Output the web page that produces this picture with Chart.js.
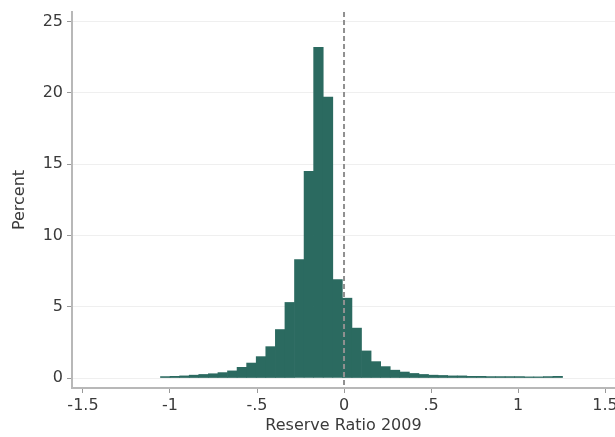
<!DOCTYPE html>
<html>
<head>
<meta charset="utf-8">
<script src="https://cdn.jsdelivr.net/npm/chart.js@4/dist/chart.umd.min.js"></script>
<style>
  html, body { margin: 0; padding: 0; background: #fff; }
  canvas { display: block; }
</style>
</head>
<body>
<canvas id="histChart" width="615" height="437"></canvas>
<script>
// Histogram of the 2009 reserve ratio (bin midpoints and percent of banks per bin)
const binCenters = [
  -1.027, -0.972, -0.917, -0.862, -0.807, -0.752, -0.697, -0.642, -0.587, -0.532,
  -0.477, -0.422, -0.367, -0.312, -0.257, -0.202, -0.147, -0.092, -0.037, 0.018,
  0.073, 0.128, 0.183, 0.238, 0.293, 0.348, 0.403, 0.458, 0.513, 0.568,
  0.623, 0.678, 0.733, 0.788, 0.843, 0.898, 0.953, 1.008, 1.063, 1.118,
  1.173, 1.228
];
const percent = [
  0.10, 0.12, 0.15, 0.20, 0.25, 0.30, 0.38, 0.50, 0.75, 1.05,
  1.50, 2.20, 3.40, 5.30, 8.30, 14.50, 23.20, 19.70, 6.90, 5.60,
  3.50, 1.90, 1.15, 0.80, 0.55, 0.42, 0.32, 0.25, 0.20, 0.18,
  0.15, 0.15, 0.12, 0.12, 0.10, 0.10, 0.10, 0.10, 0.08, 0.08,
  0.10, 0.12
];
const xTicks = [-1.5, -1, -0.5, 0, 0.5, 1, 1.5];
const yTicks = [0, 5, 10, 15, 20, 25];

const barColor = '#2b6a60';
const textColor = '#3a3a3a';
const axisColor = '#b8b8b8';

// stata-style labels: -.5 and .5 without the leading zero
function fmtTick(v) {
  if (v === 0) return '0';
  const a = Math.abs(v);
  const s = a < 1 ? String(a).slice(1) : String(a);
  return (v < 0 ? '-' : '') + s;
}

// vertical dashed reference line at zero
const zeroLine = {
  id: 'zeroLine',
  afterDatasetsDraw(chart) {
    const { ctx, chartArea, scales } = chart;
    const x = scales.x.getPixelForValue(0);
    ctx.save();
    ctx.strokeStyle = '#909090';
    ctx.lineWidth = 2;
    ctx.setLineDash([5, 3]);
    ctx.beginPath();
    ctx.moveTo(x, chartArea.top);
    ctx.lineTo(x, chartArea.bottom);
    ctx.stroke();
    ctx.restore();
  }
};

const ctx = document.getElementById('histChart').getContext('2d');

new Chart(ctx, {
  type: 'bar',
  data: {
    datasets: [{
      data: binCenters.map((x, i) => ({ x: x, y: percent[i] })),
      backgroundColor: barColor,
      borderWidth: 0,
      barPercentage: 1,
      categoryPercentage: 1
    }]
  },
  options: {
    responsive: false,
    animation: false,
    layout: { padding: { top: 12, right: 0, bottom: 0, left: 0 } },
    plugins: {
      legend: { display: false },
      tooltip: { enabled: false }
    },
    scales: {
      x: {
        type: 'linear',
        min: -1.563,
        max: 1.557,
        offset: false,
        afterBuildTicks: s => { s.ticks = xTicks.map(v => ({ value: v })); },
        afterFit: s => { s.height = 49; s.paddingLeft = 0; s.paddingRight = 0; },
        grid: { offset: false, color: 'transparent', tickColor: '#999', tickLength: 5, tickWidth: 1 },
        border: { color: axisColor, width: 2 },
        ticks: {
          autoSkip: false,
          maxRotation: 0,
          padding: 3,
          color: textColor,
          font: { family: 'DejaVu Sans', size: 16 },
          callback: v => fmtTick(v)
        },
        title: {
          display: true,
          text: 'Reserve Ratio 2009',
          color: textColor,
          font: { family: 'DejaVu Sans', size: 16 },
          padding: { top: 0, bottom: 2 }
        }
      },
      y: {
        min: -0.7,
        max: 25.67,
        afterBuildTicks: s => { s.ticks = yTicks.map(v => ({ value: v })); },
        afterFit: s => { s.width = 72; s.paddingTop = 0; s.paddingBottom = 0; },
        grid: { color: '#efefef', lineWidth: 1, tickColor: '#999', tickLength: 5 },
        border: { color: axisColor, width: 2 },
        ticks: {
          padding: 4,
          color: textColor,
          font: { family: 'DejaVu Sans', size: 16 }
        },
        title: {
          display: true,
          text: 'Percent',
          color: textColor,
          font: { family: 'DejaVu Sans', size: 16 },
          padding: { top: 10, bottom: 0 }
        }
      }
    }
  },
  plugins: [zeroLine]
});
</script>
</body>
</html>
